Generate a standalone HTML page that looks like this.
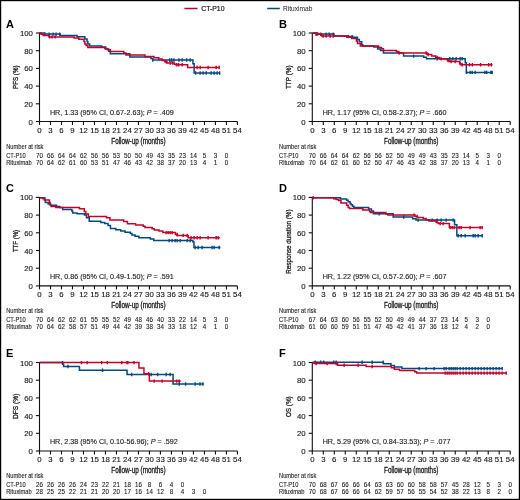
<!DOCTYPE html>
<html><head><meta charset="utf-8"><style>
html,body{margin:0;padding:0;background:#fff;}
svg{display:block;will-change:transform;}
text{font-family:"Liberation Sans",sans-serif;fill:#1a1a1a;}
.let{font-size:11px;font-weight:bold;fill:#000;}
.tk{font-size:7.8px;stroke:#1a1a1a;stroke-width:0.14px;}
.xl{font-size:8.2px;stroke:#1a1a1a;stroke-width:0.3px;}
.yl{font-size:7.8px;stroke:#1a1a1a;stroke-width:0.3px;}
.lg{font-size:7px;}
.hr{font-size:7.18px;stroke:#1a1a1a;stroke-width:0.12px;}
.nr{font-size:6.6px;stroke:#1a1a1a;stroke-width:0.1px;}
.nd{font-size:6.9px;stroke:#1a1a1a;stroke-width:0.1px;}
.ax{stroke:#111;stroke-width:1.1;}
</style></head><body>
<svg width="520" height="500" viewBox="0 0 520 500">
<rect x="0" y="0" width="520" height="500" fill="#fff"/>

<line x1="184.4" x2="197.5" y1="8.5" y2="8.5" stroke="#c4002a" stroke-width="1.5"/>
<text x="201.2" y="11.1" class="lg" stroke="#1a1a1a" stroke-width="0.2" textLength="23.3" lengthAdjust="spacingAndGlyphs">CT-P10</text>
<line x1="267.2" x2="279.8" y1="8.5" y2="8.5" stroke="#004a80" stroke-width="1.5"/>
<text x="283" y="11.1" class="lg" textLength="29.3" lengthAdjust="spacingAndGlyphs">Rituximab</text>
<g transform="translate(0,0)">
<text x="6.1" y="27.6" class="let">A</text>
<line x1="35.9" x2="39.5" y1="121.5" y2="121.5" class="ax"/>
<text x="32.9" y="124.55" class="tk" text-anchor="end">0</text>
<line x1="35.9" x2="39.5" y1="103.8" y2="103.8" class="ax"/>
<text x="32.9" y="106.85" class="tk" text-anchor="end">20</text>
<line x1="35.9" x2="39.5" y1="86.1" y2="86.1" class="ax"/>
<text x="32.9" y="89.15" class="tk" text-anchor="end">40</text>
<line x1="35.9" x2="39.5" y1="68.4" y2="68.4" class="ax"/>
<text x="32.9" y="71.45" class="tk" text-anchor="end">60</text>
<line x1="35.9" x2="39.5" y1="50.7" y2="50.7" class="ax"/>
<text x="32.9" y="53.75" class="tk" text-anchor="end">80</text>
<line x1="35.9" x2="39.5" y1="33" y2="33" class="ax"/>
<text x="32.9" y="36.05" class="tk" text-anchor="end">100</text>
<line x1="39.5" x2="39.5" y1="121.5" y2="125" class="ax"/>
<text x="39.5" y="132.7" class="tk" text-anchor="middle">0</text>
<line x1="50.5" x2="50.5" y1="121.5" y2="125" class="ax"/>
<text x="50.5" y="132.7" class="tk" text-anchor="middle">3</text>
<line x1="61.49" x2="61.49" y1="121.5" y2="125" class="ax"/>
<text x="61.49" y="132.7" class="tk" text-anchor="middle">6</text>
<line x1="72.48" x2="72.48" y1="121.5" y2="125" class="ax"/>
<text x="72.48" y="132.7" class="tk" text-anchor="middle">9</text>
<line x1="83.48" x2="83.48" y1="121.5" y2="125" class="ax"/>
<text x="83.48" y="132.7" class="tk" text-anchor="middle">12</text>
<line x1="94.47" x2="94.47" y1="121.5" y2="125" class="ax"/>
<text x="94.47" y="132.7" class="tk" text-anchor="middle">15</text>
<line x1="105.47" x2="105.47" y1="121.5" y2="125" class="ax"/>
<text x="105.47" y="132.7" class="tk" text-anchor="middle">18</text>
<line x1="116.47" x2="116.47" y1="121.5" y2="125" class="ax"/>
<text x="116.47" y="132.7" class="tk" text-anchor="middle">21</text>
<line x1="127.46" x2="127.46" y1="121.5" y2="125" class="ax"/>
<text x="127.46" y="132.7" class="tk" text-anchor="middle">24</text>
<line x1="138.45" x2="138.45" y1="121.5" y2="125" class="ax"/>
<text x="138.45" y="132.7" class="tk" text-anchor="middle">27</text>
<line x1="149.45" x2="149.45" y1="121.5" y2="125" class="ax"/>
<text x="149.45" y="132.7" class="tk" text-anchor="middle">30</text>
<line x1="160.44" x2="160.44" y1="121.5" y2="125" class="ax"/>
<text x="160.44" y="132.7" class="tk" text-anchor="middle">33</text>
<line x1="171.44" x2="171.44" y1="121.5" y2="125" class="ax"/>
<text x="171.44" y="132.7" class="tk" text-anchor="middle">36</text>
<line x1="182.44" x2="182.44" y1="121.5" y2="125" class="ax"/>
<text x="182.44" y="132.7" class="tk" text-anchor="middle">39</text>
<line x1="193.43" x2="193.43" y1="121.5" y2="125" class="ax"/>
<text x="193.43" y="132.7" class="tk" text-anchor="middle">42</text>
<line x1="204.43" x2="204.43" y1="121.5" y2="125" class="ax"/>
<text x="204.43" y="132.7" class="tk" text-anchor="middle">45</text>
<line x1="215.42" x2="215.42" y1="121.5" y2="125" class="ax"/>
<text x="215.42" y="132.7" class="tk" text-anchor="middle">48</text>
<line x1="226.41" x2="226.41" y1="121.5" y2="125" class="ax"/>
<text x="226.41" y="132.7" class="tk" text-anchor="middle">51</text>
<line x1="237.41" x2="237.41" y1="121.5" y2="125" class="ax"/>
<text x="237.41" y="132.7" class="tk" text-anchor="middle">54</text>
<path d="M39.5 32.5V121.5H237.41" class="ax" fill="none"/>
<text x="138.45" y="143.7" class="xl" text-anchor="middle" textLength="54.4" lengthAdjust="spacingAndGlyphs">Follow-up (months)</text>
<text transform="translate(18.4,77.25) rotate(-90)" class="yl" text-anchor="middle" textLength="23.4" lengthAdjust="spacingAndGlyphs">PFS (%)</text>
<text x="49.9" y="114.6" class="hr">HR, 1.33 (95% CI, 0.67-2.63); <tspan font-style="italic">P</tspan> = .409</text>
<text transform="translate(6.2,148.7) scale(0.87,1)" class="nr" text-anchor="start">Number at risk</text>
<text transform="translate(6.2,157.8) scale(0.87,1)" class="nr" text-anchor="start">CT-P10</text>
<text transform="translate(6.2,164.9) scale(0.87,1)" class="nr" text-anchor="start">Rituximab</text>
<text transform="translate(39.5,157.8) scale(0.9,1)" class="nd" text-anchor="middle">70</text>
<text transform="translate(50.5,157.8) scale(0.9,1)" class="nd" text-anchor="middle">66</text>
<text transform="translate(61.49,157.8) scale(0.9,1)" class="nd" text-anchor="middle">64</text>
<text transform="translate(72.48,157.8) scale(0.9,1)" class="nd" text-anchor="middle">64</text>
<text transform="translate(83.48,157.8) scale(0.9,1)" class="nd" text-anchor="middle">62</text>
<text transform="translate(94.47,157.8) scale(0.9,1)" class="nd" text-anchor="middle">56</text>
<text transform="translate(105.47,157.8) scale(0.9,1)" class="nd" text-anchor="middle">56</text>
<text transform="translate(116.47,157.8) scale(0.9,1)" class="nd" text-anchor="middle">53</text>
<text transform="translate(127.46,157.8) scale(0.9,1)" class="nd" text-anchor="middle">50</text>
<text transform="translate(138.45,157.8) scale(0.9,1)" class="nd" text-anchor="middle">50</text>
<text transform="translate(149.45,157.8) scale(0.9,1)" class="nd" text-anchor="middle">49</text>
<text transform="translate(160.44,157.8) scale(0.9,1)" class="nd" text-anchor="middle">43</text>
<text transform="translate(171.44,157.8) scale(0.9,1)" class="nd" text-anchor="middle">35</text>
<text transform="translate(182.44,157.8) scale(0.9,1)" class="nd" text-anchor="middle">23</text>
<text transform="translate(193.43,157.8) scale(0.9,1)" class="nd" text-anchor="middle">14</text>
<text transform="translate(204.43,157.8) scale(0.9,1)" class="nd" text-anchor="middle">5</text>
<text transform="translate(215.42,157.8) scale(0.9,1)" class="nd" text-anchor="middle">3</text>
<text transform="translate(226.41,157.8) scale(0.9,1)" class="nd" text-anchor="middle">0</text>
<text transform="translate(39.5,164.9) scale(0.9,1)" class="nd" text-anchor="middle">70</text>
<text transform="translate(50.5,164.9) scale(0.9,1)" class="nd" text-anchor="middle">64</text>
<text transform="translate(61.49,164.9) scale(0.9,1)" class="nd" text-anchor="middle">62</text>
<text transform="translate(72.48,164.9) scale(0.9,1)" class="nd" text-anchor="middle">61</text>
<text transform="translate(83.48,164.9) scale(0.9,1)" class="nd" text-anchor="middle">60</text>
<text transform="translate(94.47,164.9) scale(0.9,1)" class="nd" text-anchor="middle">53</text>
<text transform="translate(105.47,164.9) scale(0.9,1)" class="nd" text-anchor="middle">51</text>
<text transform="translate(116.47,164.9) scale(0.9,1)" class="nd" text-anchor="middle">47</text>
<text transform="translate(127.46,164.9) scale(0.9,1)" class="nd" text-anchor="middle">46</text>
<text transform="translate(138.45,164.9) scale(0.9,1)" class="nd" text-anchor="middle">43</text>
<text transform="translate(149.45,164.9) scale(0.9,1)" class="nd" text-anchor="middle">42</text>
<text transform="translate(160.44,164.9) scale(0.9,1)" class="nd" text-anchor="middle">38</text>
<text transform="translate(171.44,164.9) scale(0.9,1)" class="nd" text-anchor="middle">37</text>
<text transform="translate(182.44,164.9) scale(0.9,1)" class="nd" text-anchor="middle">20</text>
<text transform="translate(193.43,164.9) scale(0.9,1)" class="nd" text-anchor="middle">13</text>
<text transform="translate(204.43,164.9) scale(0.9,1)" class="nd" text-anchor="middle">4</text>
<text transform="translate(215.42,164.9) scale(0.9,1)" class="nd" text-anchor="middle">1</text>
<text transform="translate(226.41,164.9) scale(0.9,1)" class="nd" text-anchor="middle">0</text>
</g>
<g transform="translate(272.8,0)">
<text x="6.1" y="27.6" class="let">B</text>
<line x1="35.9" x2="39.5" y1="121.5" y2="121.5" class="ax"/>
<text x="32.9" y="124.55" class="tk" text-anchor="end">0</text>
<line x1="35.9" x2="39.5" y1="103.8" y2="103.8" class="ax"/>
<text x="32.9" y="106.85" class="tk" text-anchor="end">20</text>
<line x1="35.9" x2="39.5" y1="86.1" y2="86.1" class="ax"/>
<text x="32.9" y="89.15" class="tk" text-anchor="end">40</text>
<line x1="35.9" x2="39.5" y1="68.4" y2="68.4" class="ax"/>
<text x="32.9" y="71.45" class="tk" text-anchor="end">60</text>
<line x1="35.9" x2="39.5" y1="50.7" y2="50.7" class="ax"/>
<text x="32.9" y="53.75" class="tk" text-anchor="end">80</text>
<line x1="35.9" x2="39.5" y1="33" y2="33" class="ax"/>
<text x="32.9" y="36.05" class="tk" text-anchor="end">100</text>
<line x1="39.5" x2="39.5" y1="121.5" y2="125" class="ax"/>
<text x="39.5" y="132.7" class="tk" text-anchor="middle">0</text>
<line x1="50.5" x2="50.5" y1="121.5" y2="125" class="ax"/>
<text x="50.5" y="132.7" class="tk" text-anchor="middle">3</text>
<line x1="61.49" x2="61.49" y1="121.5" y2="125" class="ax"/>
<text x="61.49" y="132.7" class="tk" text-anchor="middle">6</text>
<line x1="72.48" x2="72.48" y1="121.5" y2="125" class="ax"/>
<text x="72.48" y="132.7" class="tk" text-anchor="middle">9</text>
<line x1="83.48" x2="83.48" y1="121.5" y2="125" class="ax"/>
<text x="83.48" y="132.7" class="tk" text-anchor="middle">12</text>
<line x1="94.47" x2="94.47" y1="121.5" y2="125" class="ax"/>
<text x="94.47" y="132.7" class="tk" text-anchor="middle">15</text>
<line x1="105.47" x2="105.47" y1="121.5" y2="125" class="ax"/>
<text x="105.47" y="132.7" class="tk" text-anchor="middle">18</text>
<line x1="116.47" x2="116.47" y1="121.5" y2="125" class="ax"/>
<text x="116.47" y="132.7" class="tk" text-anchor="middle">21</text>
<line x1="127.46" x2="127.46" y1="121.5" y2="125" class="ax"/>
<text x="127.46" y="132.7" class="tk" text-anchor="middle">24</text>
<line x1="138.45" x2="138.45" y1="121.5" y2="125" class="ax"/>
<text x="138.45" y="132.7" class="tk" text-anchor="middle">27</text>
<line x1="149.45" x2="149.45" y1="121.5" y2="125" class="ax"/>
<text x="149.45" y="132.7" class="tk" text-anchor="middle">30</text>
<line x1="160.44" x2="160.44" y1="121.5" y2="125" class="ax"/>
<text x="160.44" y="132.7" class="tk" text-anchor="middle">33</text>
<line x1="171.44" x2="171.44" y1="121.5" y2="125" class="ax"/>
<text x="171.44" y="132.7" class="tk" text-anchor="middle">36</text>
<line x1="182.44" x2="182.44" y1="121.5" y2="125" class="ax"/>
<text x="182.44" y="132.7" class="tk" text-anchor="middle">39</text>
<line x1="193.43" x2="193.43" y1="121.5" y2="125" class="ax"/>
<text x="193.43" y="132.7" class="tk" text-anchor="middle">42</text>
<line x1="204.43" x2="204.43" y1="121.5" y2="125" class="ax"/>
<text x="204.43" y="132.7" class="tk" text-anchor="middle">45</text>
<line x1="215.42" x2="215.42" y1="121.5" y2="125" class="ax"/>
<text x="215.42" y="132.7" class="tk" text-anchor="middle">48</text>
<line x1="226.41" x2="226.41" y1="121.5" y2="125" class="ax"/>
<text x="226.41" y="132.7" class="tk" text-anchor="middle">51</text>
<line x1="237.41" x2="237.41" y1="121.5" y2="125" class="ax"/>
<text x="237.41" y="132.7" class="tk" text-anchor="middle">54</text>
<path d="M39.5 32.5V121.5H237.41" class="ax" fill="none"/>
<text x="138.45" y="143.7" class="xl" text-anchor="middle" textLength="54.4" lengthAdjust="spacingAndGlyphs">Follow-up (months)</text>
<text transform="translate(18.4,77.25) rotate(-90)" class="yl" text-anchor="middle" textLength="23.5" lengthAdjust="spacingAndGlyphs">TTP (%)</text>
<text x="49.9" y="114.6" class="hr">HR, 1.17 (95% CI, 0.58-2.37); <tspan font-style="italic">P</tspan> = .660</text>
<text transform="translate(6.2,148.7) scale(0.87,1)" class="nr" text-anchor="start">Number at risk</text>
<text transform="translate(6.2,157.8) scale(0.87,1)" class="nr" text-anchor="start">CT-P10</text>
<text transform="translate(6.2,164.9) scale(0.87,1)" class="nr" text-anchor="start">Rituximab</text>
<text transform="translate(39.5,157.8) scale(0.9,1)" class="nd" text-anchor="middle">70</text>
<text transform="translate(50.5,157.8) scale(0.9,1)" class="nd" text-anchor="middle">66</text>
<text transform="translate(61.49,157.8) scale(0.9,1)" class="nd" text-anchor="middle">64</text>
<text transform="translate(72.48,157.8) scale(0.9,1)" class="nd" text-anchor="middle">64</text>
<text transform="translate(83.48,157.8) scale(0.9,1)" class="nd" text-anchor="middle">62</text>
<text transform="translate(94.47,157.8) scale(0.9,1)" class="nd" text-anchor="middle">56</text>
<text transform="translate(105.47,157.8) scale(0.9,1)" class="nd" text-anchor="middle">56</text>
<text transform="translate(116.47,157.8) scale(0.9,1)" class="nd" text-anchor="middle">52</text>
<text transform="translate(127.46,157.8) scale(0.9,1)" class="nd" text-anchor="middle">50</text>
<text transform="translate(138.45,157.8) scale(0.9,1)" class="nd" text-anchor="middle">49</text>
<text transform="translate(149.45,157.8) scale(0.9,1)" class="nd" text-anchor="middle">49</text>
<text transform="translate(160.44,157.8) scale(0.9,1)" class="nd" text-anchor="middle">43</text>
<text transform="translate(171.44,157.8) scale(0.9,1)" class="nd" text-anchor="middle">35</text>
<text transform="translate(182.44,157.8) scale(0.9,1)" class="nd" text-anchor="middle">23</text>
<text transform="translate(193.43,157.8) scale(0.9,1)" class="nd" text-anchor="middle">14</text>
<text transform="translate(204.43,157.8) scale(0.9,1)" class="nd" text-anchor="middle">5</text>
<text transform="translate(215.42,157.8) scale(0.9,1)" class="nd" text-anchor="middle">3</text>
<text transform="translate(226.41,157.8) scale(0.9,1)" class="nd" text-anchor="middle">0</text>
<text transform="translate(39.5,164.9) scale(0.9,1)" class="nd" text-anchor="middle">70</text>
<text transform="translate(50.5,164.9) scale(0.9,1)" class="nd" text-anchor="middle">64</text>
<text transform="translate(61.49,164.9) scale(0.9,1)" class="nd" text-anchor="middle">62</text>
<text transform="translate(72.48,164.9) scale(0.9,1)" class="nd" text-anchor="middle">61</text>
<text transform="translate(83.48,164.9) scale(0.9,1)" class="nd" text-anchor="middle">60</text>
<text transform="translate(94.47,164.9) scale(0.9,1)" class="nd" text-anchor="middle">52</text>
<text transform="translate(105.47,164.9) scale(0.9,1)" class="nd" text-anchor="middle">50</text>
<text transform="translate(116.47,164.9) scale(0.9,1)" class="nd" text-anchor="middle">47</text>
<text transform="translate(127.46,164.9) scale(0.9,1)" class="nd" text-anchor="middle">46</text>
<text transform="translate(138.45,164.9) scale(0.9,1)" class="nd" text-anchor="middle">43</text>
<text transform="translate(149.45,164.9) scale(0.9,1)" class="nd" text-anchor="middle">42</text>
<text transform="translate(160.44,164.9) scale(0.9,1)" class="nd" text-anchor="middle">38</text>
<text transform="translate(171.44,164.9) scale(0.9,1)" class="nd" text-anchor="middle">37</text>
<text transform="translate(182.44,164.9) scale(0.9,1)" class="nd" text-anchor="middle">20</text>
<text transform="translate(193.43,164.9) scale(0.9,1)" class="nd" text-anchor="middle">13</text>
<text transform="translate(204.43,164.9) scale(0.9,1)" class="nd" text-anchor="middle">4</text>
<text transform="translate(215.42,164.9) scale(0.9,1)" class="nd" text-anchor="middle">1</text>
<text transform="translate(226.41,164.9) scale(0.9,1)" class="nd" text-anchor="middle">0</text>
</g>
<g transform="translate(0,164.4)">
<text x="6.1" y="27.6" class="let">C</text>
<line x1="35.9" x2="39.5" y1="121.5" y2="121.5" class="ax"/>
<text x="32.9" y="124.55" class="tk" text-anchor="end">0</text>
<line x1="35.9" x2="39.5" y1="103.8" y2="103.8" class="ax"/>
<text x="32.9" y="106.85" class="tk" text-anchor="end">20</text>
<line x1="35.9" x2="39.5" y1="86.1" y2="86.1" class="ax"/>
<text x="32.9" y="89.15" class="tk" text-anchor="end">40</text>
<line x1="35.9" x2="39.5" y1="68.4" y2="68.4" class="ax"/>
<text x="32.9" y="71.45" class="tk" text-anchor="end">60</text>
<line x1="35.9" x2="39.5" y1="50.7" y2="50.7" class="ax"/>
<text x="32.9" y="53.75" class="tk" text-anchor="end">80</text>
<line x1="35.9" x2="39.5" y1="33" y2="33" class="ax"/>
<text x="32.9" y="36.05" class="tk" text-anchor="end">100</text>
<line x1="39.5" x2="39.5" y1="121.5" y2="125" class="ax"/>
<text x="39.5" y="132.7" class="tk" text-anchor="middle">0</text>
<line x1="50.5" x2="50.5" y1="121.5" y2="125" class="ax"/>
<text x="50.5" y="132.7" class="tk" text-anchor="middle">3</text>
<line x1="61.49" x2="61.49" y1="121.5" y2="125" class="ax"/>
<text x="61.49" y="132.7" class="tk" text-anchor="middle">6</text>
<line x1="72.48" x2="72.48" y1="121.5" y2="125" class="ax"/>
<text x="72.48" y="132.7" class="tk" text-anchor="middle">9</text>
<line x1="83.48" x2="83.48" y1="121.5" y2="125" class="ax"/>
<text x="83.48" y="132.7" class="tk" text-anchor="middle">12</text>
<line x1="94.47" x2="94.47" y1="121.5" y2="125" class="ax"/>
<text x="94.47" y="132.7" class="tk" text-anchor="middle">15</text>
<line x1="105.47" x2="105.47" y1="121.5" y2="125" class="ax"/>
<text x="105.47" y="132.7" class="tk" text-anchor="middle">18</text>
<line x1="116.47" x2="116.47" y1="121.5" y2="125" class="ax"/>
<text x="116.47" y="132.7" class="tk" text-anchor="middle">21</text>
<line x1="127.46" x2="127.46" y1="121.5" y2="125" class="ax"/>
<text x="127.46" y="132.7" class="tk" text-anchor="middle">24</text>
<line x1="138.45" x2="138.45" y1="121.5" y2="125" class="ax"/>
<text x="138.45" y="132.7" class="tk" text-anchor="middle">27</text>
<line x1="149.45" x2="149.45" y1="121.5" y2="125" class="ax"/>
<text x="149.45" y="132.7" class="tk" text-anchor="middle">30</text>
<line x1="160.44" x2="160.44" y1="121.5" y2="125" class="ax"/>
<text x="160.44" y="132.7" class="tk" text-anchor="middle">33</text>
<line x1="171.44" x2="171.44" y1="121.5" y2="125" class="ax"/>
<text x="171.44" y="132.7" class="tk" text-anchor="middle">36</text>
<line x1="182.44" x2="182.44" y1="121.5" y2="125" class="ax"/>
<text x="182.44" y="132.7" class="tk" text-anchor="middle">39</text>
<line x1="193.43" x2="193.43" y1="121.5" y2="125" class="ax"/>
<text x="193.43" y="132.7" class="tk" text-anchor="middle">42</text>
<line x1="204.43" x2="204.43" y1="121.5" y2="125" class="ax"/>
<text x="204.43" y="132.7" class="tk" text-anchor="middle">45</text>
<line x1="215.42" x2="215.42" y1="121.5" y2="125" class="ax"/>
<text x="215.42" y="132.7" class="tk" text-anchor="middle">48</text>
<line x1="226.41" x2="226.41" y1="121.5" y2="125" class="ax"/>
<text x="226.41" y="132.7" class="tk" text-anchor="middle">51</text>
<line x1="237.41" x2="237.41" y1="121.5" y2="125" class="ax"/>
<text x="237.41" y="132.7" class="tk" text-anchor="middle">54</text>
<path d="M39.5 32.5V121.5H237.41" class="ax" fill="none"/>
<text x="138.45" y="143.7" class="xl" text-anchor="middle" textLength="54.4" lengthAdjust="spacingAndGlyphs">Follow-up (months)</text>
<text transform="translate(18.4,76.6) rotate(-90)" class="yl" text-anchor="middle" textLength="22.2" lengthAdjust="spacingAndGlyphs">TTF (%)</text>
<text x="49.9" y="114.6" class="hr">HR, 0.86 (95% CI, 0.49-1.50); <tspan font-style="italic">P</tspan> = .591</text>
<text transform="translate(6.2,148.7) scale(0.87,1)" class="nr" text-anchor="start">Number at risk</text>
<text transform="translate(6.2,157.8) scale(0.87,1)" class="nr" text-anchor="start">CT-P10</text>
<text transform="translate(6.2,164.9) scale(0.87,1)" class="nr" text-anchor="start">Rituximab</text>
<text transform="translate(39.5,157.8) scale(0.9,1)" class="nd" text-anchor="middle">70</text>
<text transform="translate(50.5,157.8) scale(0.9,1)" class="nd" text-anchor="middle">64</text>
<text transform="translate(61.49,157.8) scale(0.9,1)" class="nd" text-anchor="middle">62</text>
<text transform="translate(72.48,157.8) scale(0.9,1)" class="nd" text-anchor="middle">62</text>
<text transform="translate(83.48,157.8) scale(0.9,1)" class="nd" text-anchor="middle">61</text>
<text transform="translate(94.47,157.8) scale(0.9,1)" class="nd" text-anchor="middle">55</text>
<text transform="translate(105.47,157.8) scale(0.9,1)" class="nd" text-anchor="middle">55</text>
<text transform="translate(116.47,157.8) scale(0.9,1)" class="nd" text-anchor="middle">52</text>
<text transform="translate(127.46,157.8) scale(0.9,1)" class="nd" text-anchor="middle">49</text>
<text transform="translate(138.45,157.8) scale(0.9,1)" class="nd" text-anchor="middle">48</text>
<text transform="translate(149.45,157.8) scale(0.9,1)" class="nd" text-anchor="middle">46</text>
<text transform="translate(160.44,157.8) scale(0.9,1)" class="nd" text-anchor="middle">40</text>
<text transform="translate(171.44,157.8) scale(0.9,1)" class="nd" text-anchor="middle">33</text>
<text transform="translate(182.44,157.8) scale(0.9,1)" class="nd" text-anchor="middle">22</text>
<text transform="translate(193.43,157.8) scale(0.9,1)" class="nd" text-anchor="middle">14</text>
<text transform="translate(204.43,157.8) scale(0.9,1)" class="nd" text-anchor="middle">5</text>
<text transform="translate(215.42,157.8) scale(0.9,1)" class="nd" text-anchor="middle">3</text>
<text transform="translate(226.41,157.8) scale(0.9,1)" class="nd" text-anchor="middle">0</text>
<text transform="translate(39.5,164.9) scale(0.9,1)" class="nd" text-anchor="middle">70</text>
<text transform="translate(50.5,164.9) scale(0.9,1)" class="nd" text-anchor="middle">64</text>
<text transform="translate(61.49,164.9) scale(0.9,1)" class="nd" text-anchor="middle">62</text>
<text transform="translate(72.48,164.9) scale(0.9,1)" class="nd" text-anchor="middle">58</text>
<text transform="translate(83.48,164.9) scale(0.9,1)" class="nd" text-anchor="middle">57</text>
<text transform="translate(94.47,164.9) scale(0.9,1)" class="nd" text-anchor="middle">51</text>
<text transform="translate(105.47,164.9) scale(0.9,1)" class="nd" text-anchor="middle">49</text>
<text transform="translate(116.47,164.9) scale(0.9,1)" class="nd" text-anchor="middle">44</text>
<text transform="translate(127.46,164.9) scale(0.9,1)" class="nd" text-anchor="middle">42</text>
<text transform="translate(138.45,164.9) scale(0.9,1)" class="nd" text-anchor="middle">39</text>
<text transform="translate(149.45,164.9) scale(0.9,1)" class="nd" text-anchor="middle">38</text>
<text transform="translate(160.44,164.9) scale(0.9,1)" class="nd" text-anchor="middle">34</text>
<text transform="translate(171.44,164.9) scale(0.9,1)" class="nd" text-anchor="middle">33</text>
<text transform="translate(182.44,164.9) scale(0.9,1)" class="nd" text-anchor="middle">18</text>
<text transform="translate(193.43,164.9) scale(0.9,1)" class="nd" text-anchor="middle">12</text>
<text transform="translate(204.43,164.9) scale(0.9,1)" class="nd" text-anchor="middle">4</text>
<text transform="translate(215.42,164.9) scale(0.9,1)" class="nd" text-anchor="middle">1</text>
<text transform="translate(226.41,164.9) scale(0.9,1)" class="nd" text-anchor="middle">0</text>
</g>
<g transform="translate(272.8,164.4)">
<text x="6.1" y="27.6" class="let">D</text>
<line x1="35.9" x2="39.5" y1="121.5" y2="121.5" class="ax"/>
<text x="32.9" y="124.55" class="tk" text-anchor="end">0</text>
<line x1="35.9" x2="39.5" y1="103.8" y2="103.8" class="ax"/>
<text x="32.9" y="106.85" class="tk" text-anchor="end">20</text>
<line x1="35.9" x2="39.5" y1="86.1" y2="86.1" class="ax"/>
<text x="32.9" y="89.15" class="tk" text-anchor="end">40</text>
<line x1="35.9" x2="39.5" y1="68.4" y2="68.4" class="ax"/>
<text x="32.9" y="71.45" class="tk" text-anchor="end">60</text>
<line x1="35.9" x2="39.5" y1="50.7" y2="50.7" class="ax"/>
<text x="32.9" y="53.75" class="tk" text-anchor="end">80</text>
<line x1="35.9" x2="39.5" y1="33" y2="33" class="ax"/>
<text x="32.9" y="36.05" class="tk" text-anchor="end">100</text>
<line x1="39.5" x2="39.5" y1="121.5" y2="125" class="ax"/>
<text x="39.5" y="132.7" class="tk" text-anchor="middle">0</text>
<line x1="50.5" x2="50.5" y1="121.5" y2="125" class="ax"/>
<text x="50.5" y="132.7" class="tk" text-anchor="middle">3</text>
<line x1="61.49" x2="61.49" y1="121.5" y2="125" class="ax"/>
<text x="61.49" y="132.7" class="tk" text-anchor="middle">6</text>
<line x1="72.48" x2="72.48" y1="121.5" y2="125" class="ax"/>
<text x="72.48" y="132.7" class="tk" text-anchor="middle">9</text>
<line x1="83.48" x2="83.48" y1="121.5" y2="125" class="ax"/>
<text x="83.48" y="132.7" class="tk" text-anchor="middle">12</text>
<line x1="94.47" x2="94.47" y1="121.5" y2="125" class="ax"/>
<text x="94.47" y="132.7" class="tk" text-anchor="middle">15</text>
<line x1="105.47" x2="105.47" y1="121.5" y2="125" class="ax"/>
<text x="105.47" y="132.7" class="tk" text-anchor="middle">18</text>
<line x1="116.47" x2="116.47" y1="121.5" y2="125" class="ax"/>
<text x="116.47" y="132.7" class="tk" text-anchor="middle">21</text>
<line x1="127.46" x2="127.46" y1="121.5" y2="125" class="ax"/>
<text x="127.46" y="132.7" class="tk" text-anchor="middle">24</text>
<line x1="138.45" x2="138.45" y1="121.5" y2="125" class="ax"/>
<text x="138.45" y="132.7" class="tk" text-anchor="middle">27</text>
<line x1="149.45" x2="149.45" y1="121.5" y2="125" class="ax"/>
<text x="149.45" y="132.7" class="tk" text-anchor="middle">30</text>
<line x1="160.44" x2="160.44" y1="121.5" y2="125" class="ax"/>
<text x="160.44" y="132.7" class="tk" text-anchor="middle">33</text>
<line x1="171.44" x2="171.44" y1="121.5" y2="125" class="ax"/>
<text x="171.44" y="132.7" class="tk" text-anchor="middle">36</text>
<line x1="182.44" x2="182.44" y1="121.5" y2="125" class="ax"/>
<text x="182.44" y="132.7" class="tk" text-anchor="middle">39</text>
<line x1="193.43" x2="193.43" y1="121.5" y2="125" class="ax"/>
<text x="193.43" y="132.7" class="tk" text-anchor="middle">42</text>
<line x1="204.43" x2="204.43" y1="121.5" y2="125" class="ax"/>
<text x="204.43" y="132.7" class="tk" text-anchor="middle">45</text>
<line x1="215.42" x2="215.42" y1="121.5" y2="125" class="ax"/>
<text x="215.42" y="132.7" class="tk" text-anchor="middle">48</text>
<line x1="226.41" x2="226.41" y1="121.5" y2="125" class="ax"/>
<text x="226.41" y="132.7" class="tk" text-anchor="middle">51</text>
<line x1="237.41" x2="237.41" y1="121.5" y2="125" class="ax"/>
<text x="237.41" y="132.7" class="tk" text-anchor="middle">54</text>
<path d="M39.5 32.5V121.5H237.41" class="ax" fill="none"/>
<text x="138.45" y="143.7" class="xl" text-anchor="middle" textLength="54.4" lengthAdjust="spacingAndGlyphs">Follow-up (months)</text>
<text transform="translate(18.4,77.25) rotate(-90)" class="yl" text-anchor="middle" textLength="64.3" lengthAdjust="spacingAndGlyphs">Response duration (%)</text>
<text x="49.9" y="114.6" class="hr">HR, 1.22 (95% CI, 0.57-2.60); <tspan font-style="italic">P</tspan> = .607</text>
<text transform="translate(6.2,148.7) scale(0.87,1)" class="nr" text-anchor="start">Number at risk</text>
<text transform="translate(6.2,157.8) scale(0.87,1)" class="nr" text-anchor="start">CT-P10</text>
<text transform="translate(6.2,164.9) scale(0.87,1)" class="nr" text-anchor="start">Rituximab</text>
<text transform="translate(39.5,157.8) scale(0.9,1)" class="nd" text-anchor="middle">67</text>
<text transform="translate(50.5,157.8) scale(0.9,1)" class="nd" text-anchor="middle">64</text>
<text transform="translate(61.49,157.8) scale(0.9,1)" class="nd" text-anchor="middle">63</text>
<text transform="translate(72.48,157.8) scale(0.9,1)" class="nd" text-anchor="middle">60</text>
<text transform="translate(83.48,157.8) scale(0.9,1)" class="nd" text-anchor="middle">56</text>
<text transform="translate(94.47,157.8) scale(0.9,1)" class="nd" text-anchor="middle">55</text>
<text transform="translate(105.47,157.8) scale(0.9,1)" class="nd" text-anchor="middle">52</text>
<text transform="translate(116.47,157.8) scale(0.9,1)" class="nd" text-anchor="middle">50</text>
<text transform="translate(127.46,157.8) scale(0.9,1)" class="nd" text-anchor="middle">49</text>
<text transform="translate(138.45,157.8) scale(0.9,1)" class="nd" text-anchor="middle">49</text>
<text transform="translate(149.45,157.8) scale(0.9,1)" class="nd" text-anchor="middle">44</text>
<text transform="translate(160.44,157.8) scale(0.9,1)" class="nd" text-anchor="middle">37</text>
<text transform="translate(171.44,157.8) scale(0.9,1)" class="nd" text-anchor="middle">23</text>
<text transform="translate(182.44,157.8) scale(0.9,1)" class="nd" text-anchor="middle">14</text>
<text transform="translate(193.43,157.8) scale(0.9,1)" class="nd" text-anchor="middle">5</text>
<text transform="translate(204.43,157.8) scale(0.9,1)" class="nd" text-anchor="middle">3</text>
<text transform="translate(215.42,157.8) scale(0.9,1)" class="nd" text-anchor="middle">0</text>
<text transform="translate(39.5,164.9) scale(0.9,1)" class="nd" text-anchor="middle">61</text>
<text transform="translate(50.5,164.9) scale(0.9,1)" class="nd" text-anchor="middle">60</text>
<text transform="translate(61.49,164.9) scale(0.9,1)" class="nd" text-anchor="middle">60</text>
<text transform="translate(72.48,164.9) scale(0.9,1)" class="nd" text-anchor="middle">59</text>
<text transform="translate(83.48,164.9) scale(0.9,1)" class="nd" text-anchor="middle">51</text>
<text transform="translate(94.47,164.9) scale(0.9,1)" class="nd" text-anchor="middle">51</text>
<text transform="translate(105.47,164.9) scale(0.9,1)" class="nd" text-anchor="middle">47</text>
<text transform="translate(116.47,164.9) scale(0.9,1)" class="nd" text-anchor="middle">45</text>
<text transform="translate(127.46,164.9) scale(0.9,1)" class="nd" text-anchor="middle">42</text>
<text transform="translate(138.45,164.9) scale(0.9,1)" class="nd" text-anchor="middle">41</text>
<text transform="translate(149.45,164.9) scale(0.9,1)" class="nd" text-anchor="middle">37</text>
<text transform="translate(160.44,164.9) scale(0.9,1)" class="nd" text-anchor="middle">36</text>
<text transform="translate(171.44,164.9) scale(0.9,1)" class="nd" text-anchor="middle">18</text>
<text transform="translate(182.44,164.9) scale(0.9,1)" class="nd" text-anchor="middle">12</text>
<text transform="translate(193.43,164.9) scale(0.9,1)" class="nd" text-anchor="middle">4</text>
<text transform="translate(204.43,164.9) scale(0.9,1)" class="nd" text-anchor="middle">2</text>
<text transform="translate(215.42,164.9) scale(0.9,1)" class="nd" text-anchor="middle">0</text>
</g>
<g transform="translate(0,329.5)">
<text x="6.1" y="27.6" class="let">E</text>
<line x1="35.9" x2="39.5" y1="121.5" y2="121.5" class="ax"/>
<text x="32.9" y="124.55" class="tk" text-anchor="end">0</text>
<line x1="35.9" x2="39.5" y1="103.8" y2="103.8" class="ax"/>
<text x="32.9" y="106.85" class="tk" text-anchor="end">20</text>
<line x1="35.9" x2="39.5" y1="86.1" y2="86.1" class="ax"/>
<text x="32.9" y="89.15" class="tk" text-anchor="end">40</text>
<line x1="35.9" x2="39.5" y1="68.4" y2="68.4" class="ax"/>
<text x="32.9" y="71.45" class="tk" text-anchor="end">60</text>
<line x1="35.9" x2="39.5" y1="50.7" y2="50.7" class="ax"/>
<text x="32.9" y="53.75" class="tk" text-anchor="end">80</text>
<line x1="35.9" x2="39.5" y1="33" y2="33" class="ax"/>
<text x="32.9" y="36.05" class="tk" text-anchor="end">100</text>
<line x1="39.5" x2="39.5" y1="121.5" y2="125" class="ax"/>
<text x="39.5" y="132.7" class="tk" text-anchor="middle">0</text>
<line x1="50.5" x2="50.5" y1="121.5" y2="125" class="ax"/>
<text x="50.5" y="132.7" class="tk" text-anchor="middle">3</text>
<line x1="61.49" x2="61.49" y1="121.5" y2="125" class="ax"/>
<text x="61.49" y="132.7" class="tk" text-anchor="middle">6</text>
<line x1="72.48" x2="72.48" y1="121.5" y2="125" class="ax"/>
<text x="72.48" y="132.7" class="tk" text-anchor="middle">9</text>
<line x1="83.48" x2="83.48" y1="121.5" y2="125" class="ax"/>
<text x="83.48" y="132.7" class="tk" text-anchor="middle">12</text>
<line x1="94.47" x2="94.47" y1="121.5" y2="125" class="ax"/>
<text x="94.47" y="132.7" class="tk" text-anchor="middle">15</text>
<line x1="105.47" x2="105.47" y1="121.5" y2="125" class="ax"/>
<text x="105.47" y="132.7" class="tk" text-anchor="middle">18</text>
<line x1="116.47" x2="116.47" y1="121.5" y2="125" class="ax"/>
<text x="116.47" y="132.7" class="tk" text-anchor="middle">21</text>
<line x1="127.46" x2="127.46" y1="121.5" y2="125" class="ax"/>
<text x="127.46" y="132.7" class="tk" text-anchor="middle">24</text>
<line x1="138.45" x2="138.45" y1="121.5" y2="125" class="ax"/>
<text x="138.45" y="132.7" class="tk" text-anchor="middle">27</text>
<line x1="149.45" x2="149.45" y1="121.5" y2="125" class="ax"/>
<text x="149.45" y="132.7" class="tk" text-anchor="middle">30</text>
<line x1="160.44" x2="160.44" y1="121.5" y2="125" class="ax"/>
<text x="160.44" y="132.7" class="tk" text-anchor="middle">33</text>
<line x1="171.44" x2="171.44" y1="121.5" y2="125" class="ax"/>
<text x="171.44" y="132.7" class="tk" text-anchor="middle">36</text>
<line x1="182.44" x2="182.44" y1="121.5" y2="125" class="ax"/>
<text x="182.44" y="132.7" class="tk" text-anchor="middle">39</text>
<line x1="193.43" x2="193.43" y1="121.5" y2="125" class="ax"/>
<text x="193.43" y="132.7" class="tk" text-anchor="middle">42</text>
<line x1="204.43" x2="204.43" y1="121.5" y2="125" class="ax"/>
<text x="204.43" y="132.7" class="tk" text-anchor="middle">45</text>
<line x1="215.42" x2="215.42" y1="121.5" y2="125" class="ax"/>
<text x="215.42" y="132.7" class="tk" text-anchor="middle">48</text>
<line x1="226.41" x2="226.41" y1="121.5" y2="125" class="ax"/>
<text x="226.41" y="132.7" class="tk" text-anchor="middle">51</text>
<line x1="237.41" x2="237.41" y1="121.5" y2="125" class="ax"/>
<text x="237.41" y="132.7" class="tk" text-anchor="middle">54</text>
<path d="M39.5 32.5V121.5H237.41" class="ax" fill="none"/>
<text x="138.45" y="143.7" class="xl" text-anchor="middle" textLength="54.4" lengthAdjust="spacingAndGlyphs">Follow-up (months)</text>
<text transform="translate(18.4,76.8) rotate(-90)" class="yl" text-anchor="middle" textLength="25.3" lengthAdjust="spacingAndGlyphs">DFS (%)</text>
<text x="49.9" y="114.6" class="hr">HR, 2.38 (95% CI, 0.10-56.96); <tspan font-style="italic">P</tspan> = .592</text>
<text transform="translate(6.2,148.7) scale(0.87,1)" class="nr" text-anchor="start">Number at risk</text>
<text transform="translate(6.2,157.8) scale(0.87,1)" class="nr" text-anchor="start">CT-P10</text>
<text transform="translate(6.2,164.9) scale(0.87,1)" class="nr" text-anchor="start">Rituximab</text>
<text transform="translate(39.5,157.8) scale(0.9,1)" class="nd" text-anchor="middle">26</text>
<text transform="translate(50.5,157.8) scale(0.9,1)" class="nd" text-anchor="middle">26</text>
<text transform="translate(61.49,157.8) scale(0.9,1)" class="nd" text-anchor="middle">26</text>
<text transform="translate(72.48,157.8) scale(0.9,1)" class="nd" text-anchor="middle">26</text>
<text transform="translate(83.48,157.8) scale(0.9,1)" class="nd" text-anchor="middle">24</text>
<text transform="translate(94.47,157.8) scale(0.9,1)" class="nd" text-anchor="middle">23</text>
<text transform="translate(105.47,157.8) scale(0.9,1)" class="nd" text-anchor="middle">22</text>
<text transform="translate(116.47,157.8) scale(0.9,1)" class="nd" text-anchor="middle">21</text>
<text transform="translate(127.46,157.8) scale(0.9,1)" class="nd" text-anchor="middle">18</text>
<text transform="translate(138.45,157.8) scale(0.9,1)" class="nd" text-anchor="middle">16</text>
<text transform="translate(149.45,157.8) scale(0.9,1)" class="nd" text-anchor="middle">8</text>
<text transform="translate(160.44,157.8) scale(0.9,1)" class="nd" text-anchor="middle">6</text>
<text transform="translate(171.44,157.8) scale(0.9,1)" class="nd" text-anchor="middle">4</text>
<text transform="translate(182.44,157.8) scale(0.9,1)" class="nd" text-anchor="middle">0</text>
<text transform="translate(39.5,164.9) scale(0.9,1)" class="nd" text-anchor="middle">28</text>
<text transform="translate(50.5,164.9) scale(0.9,1)" class="nd" text-anchor="middle">25</text>
<text transform="translate(61.49,164.9) scale(0.9,1)" class="nd" text-anchor="middle">25</text>
<text transform="translate(72.48,164.9) scale(0.9,1)" class="nd" text-anchor="middle">22</text>
<text transform="translate(83.48,164.9) scale(0.9,1)" class="nd" text-anchor="middle">21</text>
<text transform="translate(94.47,164.9) scale(0.9,1)" class="nd" text-anchor="middle">21</text>
<text transform="translate(105.47,164.9) scale(0.9,1)" class="nd" text-anchor="middle">20</text>
<text transform="translate(116.47,164.9) scale(0.9,1)" class="nd" text-anchor="middle">20</text>
<text transform="translate(127.46,164.9) scale(0.9,1)" class="nd" text-anchor="middle">17</text>
<text transform="translate(138.45,164.9) scale(0.9,1)" class="nd" text-anchor="middle">16</text>
<text transform="translate(149.45,164.9) scale(0.9,1)" class="nd" text-anchor="middle">14</text>
<text transform="translate(160.44,164.9) scale(0.9,1)" class="nd" text-anchor="middle">12</text>
<text transform="translate(171.44,164.9) scale(0.9,1)" class="nd" text-anchor="middle">8</text>
<text transform="translate(182.44,164.9) scale(0.9,1)" class="nd" text-anchor="middle">4</text>
<text transform="translate(193.43,164.9) scale(0.9,1)" class="nd" text-anchor="middle">3</text>
<text transform="translate(204.43,164.9) scale(0.9,1)" class="nd" text-anchor="middle">0</text>
</g>
<g transform="translate(272.8,329.5)">
<text x="6.1" y="27.6" class="let">F</text>
<line x1="35.9" x2="39.5" y1="121.5" y2="121.5" class="ax"/>
<text x="32.9" y="124.55" class="tk" text-anchor="end">0</text>
<line x1="35.9" x2="39.5" y1="103.8" y2="103.8" class="ax"/>
<text x="32.9" y="106.85" class="tk" text-anchor="end">20</text>
<line x1="35.9" x2="39.5" y1="86.1" y2="86.1" class="ax"/>
<text x="32.9" y="89.15" class="tk" text-anchor="end">40</text>
<line x1="35.9" x2="39.5" y1="68.4" y2="68.4" class="ax"/>
<text x="32.9" y="71.45" class="tk" text-anchor="end">60</text>
<line x1="35.9" x2="39.5" y1="50.7" y2="50.7" class="ax"/>
<text x="32.9" y="53.75" class="tk" text-anchor="end">80</text>
<line x1="35.9" x2="39.5" y1="33" y2="33" class="ax"/>
<text x="32.9" y="36.05" class="tk" text-anchor="end">100</text>
<line x1="39.5" x2="39.5" y1="121.5" y2="125" class="ax"/>
<text x="39.5" y="132.7" class="tk" text-anchor="middle">0</text>
<line x1="50.5" x2="50.5" y1="121.5" y2="125" class="ax"/>
<text x="50.5" y="132.7" class="tk" text-anchor="middle">3</text>
<line x1="61.49" x2="61.49" y1="121.5" y2="125" class="ax"/>
<text x="61.49" y="132.7" class="tk" text-anchor="middle">6</text>
<line x1="72.48" x2="72.48" y1="121.5" y2="125" class="ax"/>
<text x="72.48" y="132.7" class="tk" text-anchor="middle">9</text>
<line x1="83.48" x2="83.48" y1="121.5" y2="125" class="ax"/>
<text x="83.48" y="132.7" class="tk" text-anchor="middle">12</text>
<line x1="94.47" x2="94.47" y1="121.5" y2="125" class="ax"/>
<text x="94.47" y="132.7" class="tk" text-anchor="middle">15</text>
<line x1="105.47" x2="105.47" y1="121.5" y2="125" class="ax"/>
<text x="105.47" y="132.7" class="tk" text-anchor="middle">18</text>
<line x1="116.47" x2="116.47" y1="121.5" y2="125" class="ax"/>
<text x="116.47" y="132.7" class="tk" text-anchor="middle">21</text>
<line x1="127.46" x2="127.46" y1="121.5" y2="125" class="ax"/>
<text x="127.46" y="132.7" class="tk" text-anchor="middle">24</text>
<line x1="138.45" x2="138.45" y1="121.5" y2="125" class="ax"/>
<text x="138.45" y="132.7" class="tk" text-anchor="middle">27</text>
<line x1="149.45" x2="149.45" y1="121.5" y2="125" class="ax"/>
<text x="149.45" y="132.7" class="tk" text-anchor="middle">30</text>
<line x1="160.44" x2="160.44" y1="121.5" y2="125" class="ax"/>
<text x="160.44" y="132.7" class="tk" text-anchor="middle">33</text>
<line x1="171.44" x2="171.44" y1="121.5" y2="125" class="ax"/>
<text x="171.44" y="132.7" class="tk" text-anchor="middle">36</text>
<line x1="182.44" x2="182.44" y1="121.5" y2="125" class="ax"/>
<text x="182.44" y="132.7" class="tk" text-anchor="middle">39</text>
<line x1="193.43" x2="193.43" y1="121.5" y2="125" class="ax"/>
<text x="193.43" y="132.7" class="tk" text-anchor="middle">42</text>
<line x1="204.43" x2="204.43" y1="121.5" y2="125" class="ax"/>
<text x="204.43" y="132.7" class="tk" text-anchor="middle">45</text>
<line x1="215.42" x2="215.42" y1="121.5" y2="125" class="ax"/>
<text x="215.42" y="132.7" class="tk" text-anchor="middle">48</text>
<line x1="226.41" x2="226.41" y1="121.5" y2="125" class="ax"/>
<text x="226.41" y="132.7" class="tk" text-anchor="middle">51</text>
<line x1="237.41" x2="237.41" y1="121.5" y2="125" class="ax"/>
<text x="237.41" y="132.7" class="tk" text-anchor="middle">54</text>
<path d="M39.5 32.5V121.5H237.41" class="ax" fill="none"/>
<text x="138.45" y="143.7" class="xl" text-anchor="middle" textLength="54.4" lengthAdjust="spacingAndGlyphs">Follow-up (months)</text>
<text transform="translate(18.4,77.25) rotate(-90)" class="yl" text-anchor="middle" textLength="20.7" lengthAdjust="spacingAndGlyphs">OS (%)</text>
<text x="49.9" y="114.6" class="hr">HR, 5.29 (95% CI, 0.84-33.53); <tspan font-style="italic">P</tspan> = .077</text>
<text transform="translate(6.2,148.7) scale(0.87,1)" class="nr" text-anchor="start">Number at risk</text>
<text transform="translate(6.2,157.8) scale(0.87,1)" class="nr" text-anchor="start">CT-P10</text>
<text transform="translate(6.2,164.9) scale(0.87,1)" class="nr" text-anchor="start">Rituximab</text>
<text transform="translate(39.5,157.8) scale(0.9,1)" class="nd" text-anchor="middle">70</text>
<text transform="translate(50.5,157.8) scale(0.9,1)" class="nd" text-anchor="middle">68</text>
<text transform="translate(61.49,157.8) scale(0.9,1)" class="nd" text-anchor="middle">67</text>
<text transform="translate(72.48,157.8) scale(0.9,1)" class="nd" text-anchor="middle">66</text>
<text transform="translate(83.48,157.8) scale(0.9,1)" class="nd" text-anchor="middle">66</text>
<text transform="translate(94.47,157.8) scale(0.9,1)" class="nd" text-anchor="middle">64</text>
<text transform="translate(105.47,157.8) scale(0.9,1)" class="nd" text-anchor="middle">63</text>
<text transform="translate(116.47,157.8) scale(0.9,1)" class="nd" text-anchor="middle">63</text>
<text transform="translate(127.46,157.8) scale(0.9,1)" class="nd" text-anchor="middle">60</text>
<text transform="translate(138.45,157.8) scale(0.9,1)" class="nd" text-anchor="middle">60</text>
<text transform="translate(149.45,157.8) scale(0.9,1)" class="nd" text-anchor="middle">58</text>
<text transform="translate(160.44,157.8) scale(0.9,1)" class="nd" text-anchor="middle">58</text>
<text transform="translate(171.44,157.8) scale(0.9,1)" class="nd" text-anchor="middle">57</text>
<text transform="translate(182.44,157.8) scale(0.9,1)" class="nd" text-anchor="middle">45</text>
<text transform="translate(193.43,157.8) scale(0.9,1)" class="nd" text-anchor="middle">28</text>
<text transform="translate(204.43,157.8) scale(0.9,1)" class="nd" text-anchor="middle">12</text>
<text transform="translate(215.42,157.8) scale(0.9,1)" class="nd" text-anchor="middle">5</text>
<text transform="translate(226.41,157.8) scale(0.9,1)" class="nd" text-anchor="middle">3</text>
<text transform="translate(237.41,157.8) scale(0.9,1)" class="nd" text-anchor="middle">0</text>
<text transform="translate(39.5,164.9) scale(0.9,1)" class="nd" text-anchor="middle">70</text>
<text transform="translate(50.5,164.9) scale(0.9,1)" class="nd" text-anchor="middle">68</text>
<text transform="translate(61.49,164.9) scale(0.9,1)" class="nd" text-anchor="middle">67</text>
<text transform="translate(72.48,164.9) scale(0.9,1)" class="nd" text-anchor="middle">66</text>
<text transform="translate(83.48,164.9) scale(0.9,1)" class="nd" text-anchor="middle">66</text>
<text transform="translate(94.47,164.9) scale(0.9,1)" class="nd" text-anchor="middle">64</text>
<text transform="translate(105.47,164.9) scale(0.9,1)" class="nd" text-anchor="middle">62</text>
<text transform="translate(116.47,164.9) scale(0.9,1)" class="nd" text-anchor="middle">59</text>
<text transform="translate(127.46,164.9) scale(0.9,1)" class="nd" text-anchor="middle">57</text>
<text transform="translate(138.45,164.9) scale(0.9,1)" class="nd" text-anchor="middle">56</text>
<text transform="translate(149.45,164.9) scale(0.9,1)" class="nd" text-anchor="middle">55</text>
<text transform="translate(160.44,164.9) scale(0.9,1)" class="nd" text-anchor="middle">54</text>
<text transform="translate(171.44,164.9) scale(0.9,1)" class="nd" text-anchor="middle">52</text>
<text transform="translate(182.44,164.9) scale(0.9,1)" class="nd" text-anchor="middle">38</text>
<text transform="translate(193.43,164.9) scale(0.9,1)" class="nd" text-anchor="middle">22</text>
<text transform="translate(204.43,164.9) scale(0.9,1)" class="nd" text-anchor="middle">13</text>
<text transform="translate(215.42,164.9) scale(0.9,1)" class="nd" text-anchor="middle">8</text>
<text transform="translate(226.41,164.9) scale(0.9,1)" class="nd" text-anchor="middle">2</text>
<text transform="translate(237.41,164.9) scale(0.9,1)" class="nd" text-anchor="middle">0</text>
</g>
<g transform="translate(0.15,0.3)">
<path d="M39.5 32.7H44.5V33.8H60.2V35.3H76.9V36.5H84.7V38.8H86.9V41.2H87.7V43.8H89.5V45.6H101.6V46.6H105.5V48.6H108.5V51H110.2V53.4H129.7V56.8H150.8V58.1H152.5V59.7H192.8V63.5H194V72.7H219.7" fill="none" stroke="#004a80" stroke-width="1.5"/>
<path d="M44.5 35.5v-3.4M49 35.5v-3.4M53 35.5v-3.4M56 35.5v-3.4M59.5 35.5v-3.4M152.6 61.4v-3.4M169.5 61.4v-3.4M171.5 61.4v-3.4M173.8 61.4v-3.4M178.8 61.4v-3.4M182 61.4v-3.4M186.5 61.4v-3.4M190 61.4v-3.4M195.5 74.4v-3.4M200 74.4v-3.4M203 74.4v-3.4M206 74.4v-3.4M211 74.4v-3.4M214 74.4v-3.4M217 74.4v-3.4M219.5 74.4v-3.4" stroke="#004a80" stroke-width="1.4" fill="none"/>
<path d="M39.5 32.7H41V34H43V35.2H48.8V36.6H73.9V37.8H78.7V38.9H83.8V41.2H84.7V43.8H86V45.1H87.7V47.3H104.6V48.2H107.2V49.5H110.2V51.2H123.6V52.8H125.8V54.8H144.8V56.3H153.8V57.5H158.6V58.8H162V60.1H164.7V61.4H166.8V62.7H174.2V64H175.5V64.5H187.5V67.2H219.4" fill="none" stroke="#c4002a" stroke-width="1.5"/>
<path d="M49.5 38.3v-3.4M52 38.3v-3.4M55 38.3v-3.4M166 63.1v-3.4M170 64.4v-3.4M172.5 64.4v-3.4M176.6 66.2v-3.4M178.5 66.2v-3.4M182 66.2v-3.4M197 68.9v-3.4M200 68.9v-3.4M208 68.9v-3.4M216 68.9v-3.4M219 68.9v-3.4" stroke="#c4002a" stroke-width="1.4" fill="none"/>
<path d="M312.5 32.8H317.4V33.8H333.9V35.7H347.7V36.3H352.5V36.9H357.3V39.1H359.2V41.5H361.6V44.4H362.6V45.6H373.7V46.8H377.5V48.6H380.4V50.1H383.3V52.7H403.4V55.8H423.5V56.9H426.3V58.5H465.1V62.5H466.2V72.1H492.7" fill="none" stroke="#004a80" stroke-width="1.5"/>
<path d="M317.4 35.5v-3.4M326 35.5v-3.4M329 35.5v-3.4M333 35.5v-3.4M348 38v-3.4M352 38v-3.4M413.5 57.5v-3.4M437 60.2v-3.4M449.6 60.2v-3.4M452.7 60.2v-3.4M456 60.2v-3.4M460 60.2v-3.4M462 60.2v-3.4M466.4 73.8v-3.4M470 73.8v-3.4M472 73.8v-3.4M475 73.8v-3.4M484.7 73.8v-3.4M486.5 73.8v-3.4M490.7 73.8v-3.4M492 73.8v-3.4" stroke="#004a80" stroke-width="1.4" fill="none"/>
<path d="M312.5 32.8H316V34H321.4V35.7H346.7V36.9H351.5V38.2H356.3V40.6H357.3V43.3H360.2V45.8H378.5V47.1H381.3V48.5H383.3V50.3H396.2V51.3H398.2V52.7H426.9V54.2H431.5V55.7H435.6V57.1H439.6V58.6H447.2V60.3H449.2V61.2H459.6V63.2H460.8V64.4H492.4" fill="none" stroke="#c4002a" stroke-width="1.5"/>
<path d="M316 35.7v-3.4M320.5 35.7v-3.4M323 37.4v-3.4M326 37.4v-3.4M330 37.4v-3.4M333 37.4v-3.4M399 54.4v-3.4M426 54.4v-3.4M428 55.9v-3.4M437 58.8v-3.4M441 60.3v-3.4M448 62v-3.4M451 62.9v-3.4M455 62.9v-3.4M460 64.9v-3.4M462 66.1v-3.4M469.3 66.1v-3.4M472.2 66.1v-3.4M480.4 66.1v-3.4M488.6 66.1v-3.4M491.2 66.1v-3.4" stroke="#c4002a" stroke-width="1.4" fill="none"/>
<path d="M39.5 197.4H44.7V199.7H45.2V202.1H48.1V203.6H50.5V205H56.3V206.1H59.6V207.3H62.5V209.3H71.7V210.8H72.6V212.6H77V213.5H84.3V214.6H86.3V217.4H89.1V220.9H100.7V222.1H104.5V223.3H107.9V225.2H110.3V228.1H115.7V229.4H120.6V230.7H124.9V232H130.2V233.3H131.8V234.6H134.9V235.9H138.7V237.4H150.2V238.8H153.6V240.3H192.8V241.8H193.8V247.2H220.3" fill="none" stroke="#004a80" stroke-width="1.5"/>
<path d="M169 242v-3.4M172 242v-3.4M175 242v-3.4M177 242v-3.4M180 242v-3.4M187 242v-3.4M190 242v-3.4M195 248.9v-3.4M198 248.9v-3.4M202 248.9v-3.4M212 248.9v-3.4M214 248.9v-3.4M219 248.9v-3.4" stroke="#004a80" stroke-width="1.4" fill="none"/>
<path d="M39.5 197.4H42.8V198.5H44.3V199.6H49.3V202.1H50V204.9H51V206.1H55.8V207.3H79.3V208.5H84.2V211.2H85.6V213.7H88.2V216.1H106.4V217.4H109.8V219.8H123.5V221.1H127.3V223.5H135.4V224.7H143V226H144.8V227.2H152V228.4H154.2V229.6H158.9V230.8H162.7V232.3H175.3V234.2H177.1V235.1H188V237.5H219.7" fill="none" stroke="#c4002a" stroke-width="1.5"/>
<path d="M166 234v-3.4M168 234v-3.4M170 234v-3.4M172 234v-3.4M177 235.9v-3.4M183 236.8v-3.4M187 236.8v-3.4M191 239.2v-3.4M194 239.2v-3.4M197 239.2v-3.4M200 239.2v-3.4M208 239.2v-3.4M216 239.2v-3.4M218 239.2v-3.4" stroke="#c4002a" stroke-width="1.4" fill="none"/>
<path d="M312.5 197.4H340.3V198.6H346.5V199.9H348V201.5H349.9V203.1H350.9V204.5H352.3V206H353.8V207.3H368.5V208.7H371.3V210.6H373.3V213.5H393V216.7H412.5V218.5H415.9V219.8H454.4V224.5H456.7V235.4H482.7" fill="none" stroke="#004a80" stroke-width="1.5"/>
<path d="M379 215.2v-3.4M403.5 218.4v-3.4M418 221.5v-3.4M432 221.5v-3.4M437 221.5v-3.4M441 221.5v-3.4M446 221.5v-3.4M453 221.5v-3.4M458 237.1v-3.4M461 237.1v-3.4M465 237.1v-3.4M473 237.1v-3.4M475 237.1v-3.4M478 237.1v-3.4M482 237.1v-3.4" stroke="#004a80" stroke-width="1.4" fill="none"/>
<path d="M312.5 197.4H333.6V198.4H336V199.1H338.4V200.3H340.8V202.7H346.5V205H348V207.3H349.4V208.2H362.7V209.6H369.4V211.1H370.4V212.3H385.8V213.7H387.7V214.8H414.9V216.1H417.3V217.1H423.1V218.3H426V219.5H428.8V220.8H436.5V222.1H438V223.3H449.2V227.3H482.9" fill="none" stroke="#c4002a" stroke-width="1.5"/>
<path d="M313 199.1v-3.4M414 216.5v-3.4M417 217.8v-3.4M436 222.5v-3.4M440 225v-3.4M443 225v-3.4M450 229v-3.4M452 229v-3.4M454 229v-3.4M459 229v-3.4M461 229v-3.4M470 229v-3.4M480 229v-3.4M482 229v-3.4" stroke="#c4002a" stroke-width="1.4" fill="none"/>
<path d="M39.5 362.3H62.65V364H63.45V366.2H79.3V370H126.9V374.2H172.9V383.7H203.7" fill="none" stroke="#004a80" stroke-width="1.5"/>
<path d="M62.2 364v-3.4M67.8 367.9v-3.4M102.4 371.7v-3.4M131.5 375.9v-3.4M151 375.9v-3.4M157.5 375.9v-3.4M166 375.9v-3.4M170 375.9v-3.4M179.1 385.4v-3.4M185.4 385.4v-3.4M195 385.4v-3.4M199.8 385.4v-3.4M202.7 385.4v-3.4" stroke="#004a80" stroke-width="1.4" fill="none"/>
<path d="M39.5 362.3H138.8V367.6H143.8V373.5H149.2V380.8H180.6" fill="none" stroke="#c4002a" stroke-width="1.5"/>
<path d="M81.3 364v-3.4M87 364v-3.4M101.5 364v-3.4M107.2 364v-3.4M121.7 364v-3.4M126.8 364v-3.4M127.7 364v-3.4M133.8 364v-3.4M148.5 375.2v-3.4M154 382.5v-3.4M162 382.5v-3.4M176.5 382.5v-3.4M179 382.5v-3.4" stroke="#c4002a" stroke-width="1.4" fill="none"/>
<path d="M312.5 362H383.3V363.5H390.8V365.1H394.2V366.7H401.7V368.3H502.4" fill="none" stroke="#004a80" stroke-width="1.5"/>
<path d="M315 363.7v-3.4M320.5 363.7v-3.4M323.6 363.7v-3.4M333.6 363.7v-3.4M336 363.7v-3.4M362 363.7v-3.4M372 363.7v-3.4M383 363.7v-3.4M419 370v-3.4M426 370v-3.4M434 370v-3.4M444 370v-3.4M446 370v-3.4M449 370v-3.4M451 370v-3.4M453 370v-3.4M455 370v-3.4M457 370v-3.4M460 370v-3.4M463 370v-3.4M466 370v-3.4M469 370v-3.4M472 370v-3.4M475 370v-3.4M478 370v-3.4M481 370v-3.4M484 370v-3.4M487 370v-3.4M490 370v-3.4M493 370v-3.4M496 370v-3.4M499 370v-3.4M502 370v-3.4" stroke="#004a80" stroke-width="1.4" fill="none"/>
<path d="M312.5 362.2H314V363.2H337.4V364.9H366V366.2H391.3V367.5H394.2V368.9H399.4V370.2H414.6V371.5H416.5V372.8H506.7" fill="none" stroke="#c4002a" stroke-width="1.5"/>
<path d="M316 364.9v-3.4M327 364.9v-3.4M336 364.9v-3.4M344 366.6v-3.4M358 366.6v-3.4M372 367.9v-3.4M445 374.5v-3.4M447 374.5v-3.4M449 374.5v-3.4M451 374.5v-3.4M453 374.5v-3.4M455 374.5v-3.4M457 374.5v-3.4M460 374.5v-3.4M463 374.5v-3.4M466 374.5v-3.4M469 374.5v-3.4M472 374.5v-3.4M475 374.5v-3.4M478 374.5v-3.4M481 374.5v-3.4M484 374.5v-3.4M487 374.5v-3.4M490 374.5v-3.4M493 374.5v-3.4M496 374.5v-3.4M499 374.5v-3.4M502 374.5v-3.4M506 374.5v-3.4" stroke="#c4002a" stroke-width="1.4" fill="none"/>
</g>
<rect x="0.5" y="0.5" width="519" height="499" fill="none" stroke="#000" stroke-width="1.4"/>
</svg>
</body></html>
